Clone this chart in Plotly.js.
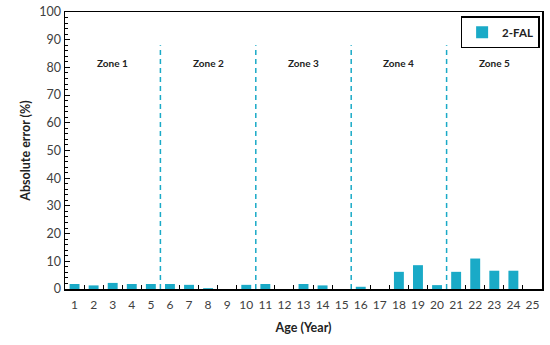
<!DOCTYPE html>
<html>
<head>
<meta charset="utf-8">
<script src="https://cdn.plot.ly/plotly-3.0.1.min.js"></script>
<style>html,body{margin:0;padding:0;background:#fff}#chart{width:550px;height:345px}</style>
</head>
<body>
<div id="chart"></div>
<script>
const ages = ["1","2","3","4","5","6","7","8","9","10","11","12","13","14","15","16","17","18","19","20","21","22","23","24","25"];
const errors = [1.8,1.3,2.2,1.8,1.8,1.8,1.5,0.3,0,1.5,1.8,0,1.8,1.3,0,0.8,0,6.2,8.6,1.4,6.2,11.0,6.6,6.6,0];
const zoneNames = ["Zone 1","Zone 2","Zone 3","Zone 4","Zone 5"];
const zoneCenters = ["3","8","13","18","23"];
const zoneLastAges = ["5","10","15","20"];
const seriesName = "2-FAL";

const font = "Lato, 'Open Sans', sans-serif";
const barColor = "#1AAAC7";

const shapes = zoneLastAges.map(a => {
  const idx = ages.indexOf(a) + 0.5;
  return {type:"line", xref:"x", yref:"y", x0:idx, x1:idx, y0:0, y1:88,
    line:{color:barColor, width:1.5, dash:"5px,4px"}};
});
const annotations = zoneNames.map((n,i) => ({
  x: ages.indexOf(zoneCenters[i]), y: 81.5, xref:"x", yref:"y", text:"<b>"+n+"</b>",
  showarrow:false, font:{family:font, size:10, color:"#222"}
}));

Plotly.newPlot("chart", [{
  type:"bar", x:ages, y:errors, name:seriesName, width:0.52,
  marker:{color:barColor}, showlegend:true
}], {
  width:550, height:345,
  margin:{l:65, r:8, t:12, b:56},
  paper_bgcolor:"#fff", plot_bgcolor:"#fff",
  font:{family:font, color:"#404040"},
  showlegend:true,
  legend:{x:0.995, xanchor:"right", y:0.985, yanchor:"top", bordercolor:"#000", borderwidth:1.5,
    itemwidth:30, tracegroupgap:0,
    font:{family:font, size:11.5, color:"#222", weight:"bold"}, bgcolor:"#fff"},
  xaxis:{type:"category", range:[-0.5,24.5], tickson:"boundaries", ticks:"inside", ticklen:4,
    tickangle:0, ticklabelstandoff:4,
    tickcolor:"#000", showline:true, linecolor:"#000", linewidth:1.5, mirror:true, showgrid:false,
    tickfont:{size:12, color:"#404040"},
    title:{text:"<b>Age (Year)</b>", font:{size:12.5, color:"#222"}, standoff:12}},
  yaxis:{range:[0,100], dtick:10, ticks:"inside", ticklen:5, tickcolor:"#000",
    minor:{dtick:2, ticks:"inside", ticklen:3, tickcolor:"#000"},
    showline:true, linecolor:"#000", linewidth:1.5, mirror:true, showgrid:false, zeroline:false,
    tickfont:{size:12.5, color:"#404040"},
    title:{text:"<b>Absolute error (%)</b>", font:{size:12.5, color:"#222"}, standoff:6}},
  shapes:shapes, annotations:annotations,
  bargap:0.48
}, {staticPlot:true});
</script>
</body>
</html>
